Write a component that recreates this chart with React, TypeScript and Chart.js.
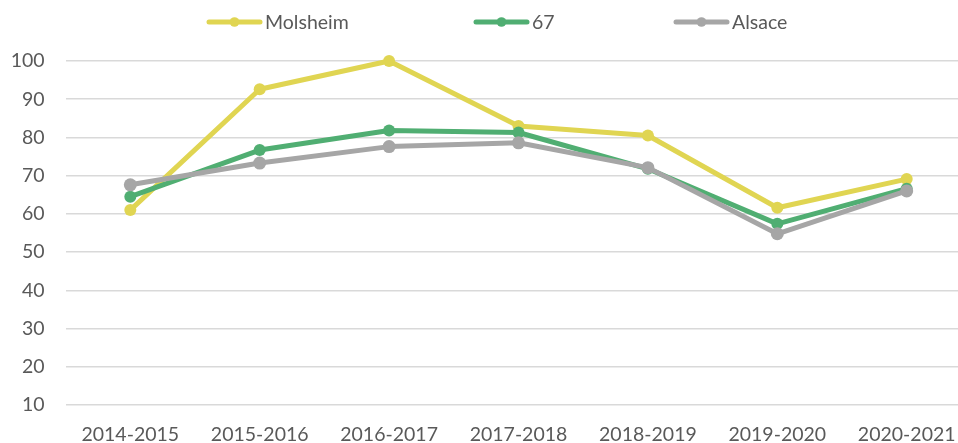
import React, { useEffect, useRef } from "react";
import { Chart, registerables } from "chart.js";

Chart.register(...registerables);

const categories = ["2014-2015", "2015-2016", "2016-2017", "2017-2018", "2018-2019", "2019-2020", "2020-2021"];
const seriesNames = ["Molsheim", "67", "Alsace"];
const molsheim = [61.0, 92.6, 100, 83.0, 80.5, 61.6, 69.1];
const bas_rhin = [64.5, 76.7, 81.8, 81.3, 71.8, 57.4, 66.6];
const alsace = [67.6, 73.3, 77.6, 78.6, 72.1, 54.8, 66.0];
const yTicks = [10, 20, 30, 40, 50, 60, 70, 80, 90, 100];

const COLORS = ["#E0D552", "#50AE72", "#A6A6A6"];
const TEXT = "#595959";
const FONT = "Lato";
const FONT_SIZE = 19.5;
const LEGEND_X = [207, 474, 674];
const LEGEND_Y = 22;
const CHART_LEFT = 65.6;
const STEP_PX = 129.4;
const W = 958;
const H = 443;

const legendPlugin = {
  id: "customLegend",
  afterDraw(chart: any) {
    const ctx = chart.ctx;
    ctx.save();
    chart.data.datasets.forEach((ds: any, i: number) => {
      const x0 = LEGEND_X[i];
      const len = 55;
      ctx.strokeStyle = ds.borderColor;
      ctx.lineWidth = 5;
      ctx.lineCap = "round";
      ctx.beginPath();
      ctx.moveTo(x0 + 2, LEGEND_Y);
      ctx.lineTo(x0 + len - 2, LEGEND_Y);
      ctx.stroke();
      ctx.fillStyle = ds.borderColor;
      ctx.beginPath();
      ctx.arc(x0 + len / 2, LEGEND_Y, 4.8, 0, Math.PI * 2);
      ctx.fill();
      ctx.fillStyle = TEXT;
      ctx.font = `${FONT_SIZE}px ${FONT}`;
      ctx.textBaseline = "middle";
      ctx.textAlign = "left";
      ctx.fillText(ds.label, x0 + len + 3, LEGEND_Y + 1);
    });
    ctx.restore();
  },
};

export default function App() {
  const ref = useRef<HTMLCanvasElement | null>(null);
  useEffect(() => {
    if (!ref.current) return;
    const seriesValues = [molsheim, bas_rhin, alsace];
    const xMin = -0.5;
    const xMax = xMin + (W - CHART_LEFT) / STEP_PX;
    const chart = new Chart(ref.current, {
      type: "line",
      data: {
        datasets: seriesValues.map((vals, i) => ({
          label: seriesNames[i],
          data: vals.map((v, j) => ({ x: j, y: v })),
          borderColor: COLORS[i],
          backgroundColor: COLORS[i],
          pointBackgroundColor: COLORS[i],
          pointBorderWidth: 0,
          pointRadius: i === 2 ? 6.5 : 6,
          borderWidth: 5,
          borderCapStyle: "round",
          borderJoinStyle: "round",
          tension: 0,
          clip: false as any,
          order: 3 - i,
        })),
      },
      options: {
        animation: false,
        responsive: false,
        maintainAspectRatio: false,
        layout: { autoPadding: false, padding: { top: 61, left: 0, right: 0, bottom: 0 } },
        plugins: { legend: { display: false }, tooltip: { enabled: false } },
        scales: {
          x: {
            type: "linear",
            min: xMin,
            max: xMax,
            grid: { display: false, drawTicks: false },
            border: { display: false },
            afterBuildTicks: (scale: any) => {
              scale.ticks = categories.map((_, i) => ({ value: i }));
            },
            afterFit: (scale: any) => {
              scale.height = 38;
              scale.paddingLeft = 0;
              scale.paddingRight = 0;
            },
            ticks: {
              autoSkip: false,
              maxRotation: 0,
              padding: 18,
              color: TEXT,
              font: { family: FONT, size: FONT_SIZE },
              callback: (v: any) => categories[v] ?? "",
            },
          },
          y: {
            min: yTicks[0],
            max: yTicks[yTicks.length - 1],
            afterBuildTicks: (scale: any) => {
              scale.ticks = yTicks.map((v) => ({ value: v }));
            },
            afterFit: (scale: any) => {
              scale.width = CHART_LEFT;
              scale.paddingTop = 0;
              scale.paddingBottom = 0;
            },
            grid: { color: "#D9D9D9", lineWidth: 1.5, drawTicks: false },
            border: { display: false },
            ticks: {
              padding: 21,
              color: TEXT,
              font: { family: FONT, size: FONT_SIZE },
            },
          },
        },
      },
      plugins: [legendPlugin],
    });
    return () => chart.destroy();
  }, []);
  return (
    <div style={{ position: "fixed", left: 0, top: 0, width: W, height: H, overflow: "hidden" }}>
      <canvas ref={ref} width={W} height={H} style={{ display: "block", width: W, height: H }} />
    </div>
  );
}
